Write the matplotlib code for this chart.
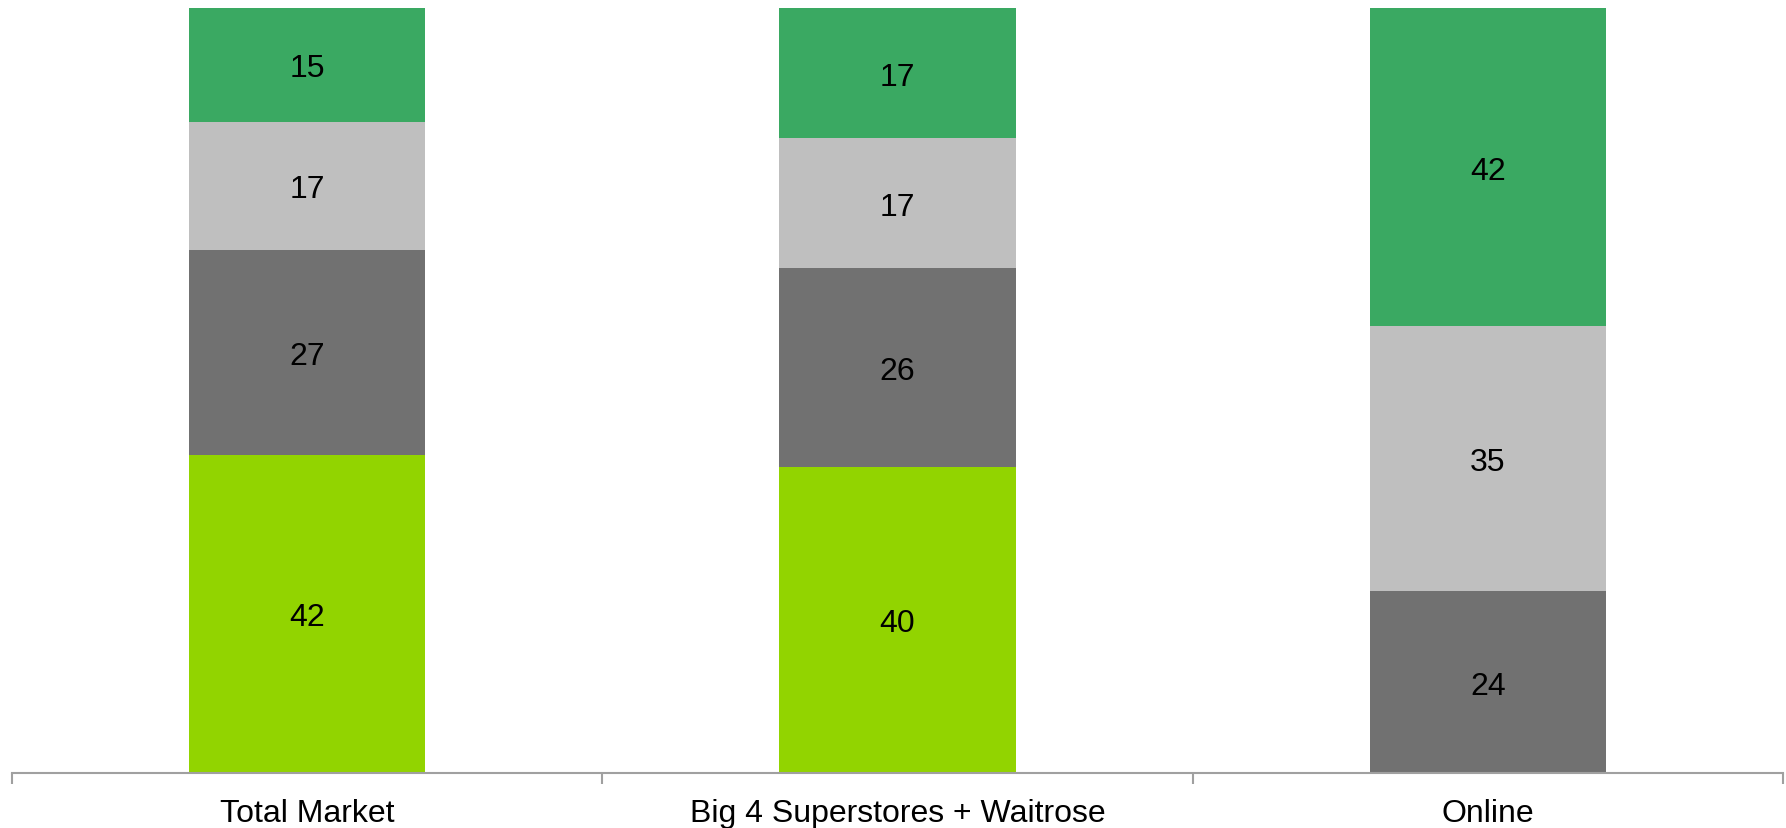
import matplotlib.pyplot as plt
import numpy as np

plt.rcParams['font.family'] = ['Liberation Sans', 'DejaVu Sans']

categories = ['Total Market', 'Big 4 Superstores + Waitrose', 'Online']
# segments from bottom to top
lime = [42, 40, 0]
dark_grey = [27, 26, 24]
light_grey = [17, 17, 35]
green = [15, 17, 42]

series = [lime, dark_grey, light_grey, green]
colors = ['#92D400', '#717171', '#BFBFBF', '#3AA962']

fig = plt.figure(figsize=(17.86, 8.29), dpi=100)
ax = fig.add_axes([12 / 1786, 1 - 774 / 829, (1783 - 12) / 1786, (774 - 9) / 829])

x = np.arange(len(categories))
totals = np.sum(series, axis=0)
bottom = np.zeros(len(categories))
for vals, col in zip(series, colors):
    vals = np.array(vals, dtype=float)
    # 100% stacked: scale each column so it fills the axis
    h = vals / totals * 100
    ax.bar(x, h, 0.4, bottom=bottom, color=col, edgecolor='none')
    for xi, v, hi, b in zip(x, vals, h, bottom):
        if v > 0:
            ax.text(xi, b + hi / 2, '%d' % v, ha='center', va='center_baseline',
                    fontsize=23, color='black')
    bottom += h

ax.set_xlim(-0.5, 2.5)
ax.set_ylim(0, 100)
ax.set_yticks([])
for s in ['top', 'right', 'left']:
    ax.spines[s].set_visible(False)
ax.spines['bottom'].set_color('#A0A0A0')
ax.spines['bottom'].set_linewidth(1.5)

ax.set_xticks(x)
ax.set_xticklabels(categories, fontsize=23)
ax.tick_params(axis='x', which='major', length=0, pad=18)
ax.set_xticks([-0.5, 0.5, 1.5, 2.5], minor=True)
ax.tick_params(axis='x', which='minor', length=8, width=1.5, color='#A0A0A0', direction='out')

fig.savefig('out.png', dpi=100)
